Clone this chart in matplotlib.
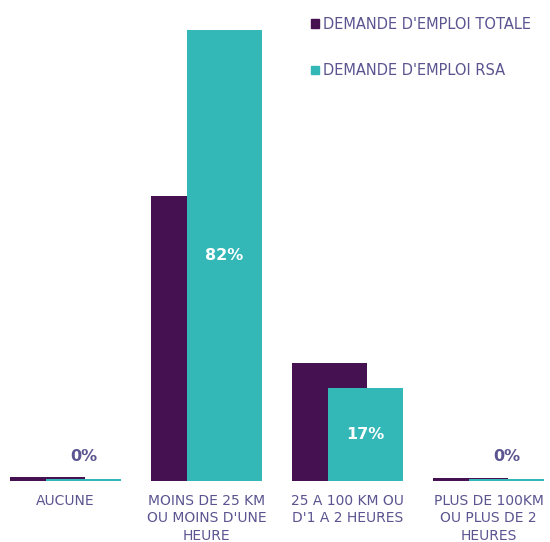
import matplotlib.pyplot as plt
import numpy as np
from matplotlib.patches import Patch

categories = ["AUCUNE", "MOINS DE 25 KM\nOU MOINS D'UNE\nHEURE",
              "25 A 100 KM OU\nD'1 A 2 HEURES", "PLUS DE 100KM\nOU PLUS DE 2\nHEURES"]
totale = [0.8, 51.8, 21.5, 0.5]
rsa = [0.4, 82, 17, 0.3]
rsa_labels = ["0%", "82%", "17%", "0%"]

purple = "#461150"
teal = "#33b7b7"
text_col = "#5b5490"

fig = plt.figure(figsize=(5.5, 5.42), dpi=100)
ax = fig.add_axes([10 / 550, 61 / 542, 534 / 550, 451 / 542])

x = np.arange(len(categories))
w = 0.532
off = 0.128
ax.bar(x - off, totale, w, color=purple, zorder=1)
bars = ax.bar(x + off, rsa, w, color=teal, zorder=2)

for b, v, lab in zip(bars, rsa, rsa_labels):
    cx = b.get_x() + b.get_width() / 2
    if v > 5:
        ax.text(cx, v / 2, lab, ha="center", va="center", color="white",
                fontsize=11.5, fontweight="bold")
    else:
        ax.text(cx, 4.5, lab, ha="center", va="center", color=text_col,
                fontsize=11.5, fontweight="bold")

ax.set_xlim(-0.394, 3.394)
ax.set_ylim(0, 82)
ax.set_xticks(x)
ax.set_xticklabels(categories, color=text_col, fontsize=10, linespacing=1.3)
ax.tick_params(axis="x", length=0, pad=9.5)
ax.set_yticks([])
for s in ax.spines.values():
    s.set_visible(False)

handles = [Patch(color=purple), Patch(color=teal)]
fig.legend(handles, ["DEMANDE D'EMPLOI TOTALE", "DEMANDE D'EMPLOI RSA"],
           loc="upper left", bbox_to_anchor=(305 / 550, 1 - 11 / 542),
           frameon=False, fontsize=10.5, labelcolor=text_col,
           handlelength=0.55, handleheight=0.55, handletextpad=0.3,
           labelspacing=2.15, borderaxespad=0)

fig.savefig("out.png", dpi=100)
